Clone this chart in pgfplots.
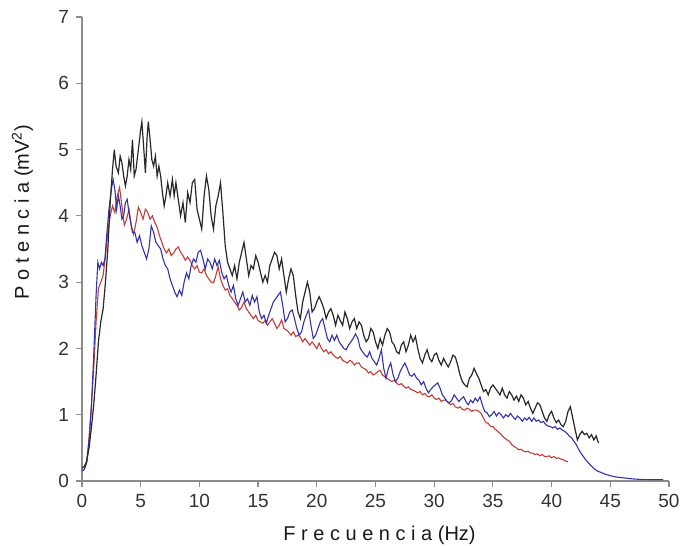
\documentclass[border=0pt]{standalone}
\usepackage{fontspec}
\setmainfont{Liberation Sans}
\usepackage{pgfplots}
\usepackage{pgfplotstable}
\pgfplotsset{compat=1.18}
\definecolor{axgray}{RGB}{140,140,140}
\definecolor{cblue}{RGB}{50,50,175}
\definecolor{cred}{RGB}{195,60,55}
\definecolor{cblack}{RGB}{40,40,40}

\pgfplotstableread{
x y
0 0.2
0.2 0.22
0.4 0.3
0.6 0.5
0.8 0.8
1.0 1.15
1.2 1.6
1.4 2.1
1.6 2.4
1.8 2.6
2.0 3.0
2.2 3.5
2.4 4.2
2.6 4.7
2.75 5.0
2.9 4.75
3.1 4.65
3.25 4.9
3.4 4.8
3.55 4.6
3.7 4.45
3.85 4.6
4.0 4.85
4.15 4.7
4.3 5.15
4.45 4.6
4.6 4.7
4.8 5.0
5.0 5.3
5.1 5.42
5.25 5.05
5.4 4.65
5.55 5.2
5.65 5.42
5.8 5.15
5.95 4.85
6.1 4.75
6.25 4.9
6.4 4.6
6.55 4.75
6.7 4.6
6.85 4.35
7.0 4.15
7.15 4.3
7.3 4.5
7.5 4.3
7.7 4.55
7.85 4.3
8.0 4.5
8.2 4.25
8.4 4.0
8.6 4.2
8.8 3.9
9.0 4.35
9.2 4.2
9.4 4.5
9.6 4.55
9.8 4.1
10.0 3.95
10.2 3.8
10.4 4.3
10.6 4.6
10.8 4.4
11.0 4.0
11.2 3.8
11.4 4.15
11.6 4.3
11.8 4.5
12.0 4.05
12.2 3.55
12.4 3.3
12.6 3.2
12.8 3.1
13.0 3.25
13.2 3.05
13.4 3.3
13.6 3.45
13.8 3.6
14.0 3.35
14.2 3.1
14.4 3.25
14.6 3.2
14.8 3.4
15.0 3.3
15.2 3.15
15.4 3.0
15.6 3.1
15.8 3.0
16.0 3.25
16.2 3.35
16.4 3.45
16.6 3.4
16.8 3.2
17.0 3.35
17.2 3.1
17.4 2.85
17.6 3.05
17.8 3.2
18.0 3.1
18.2 2.8
18.4 2.55
18.6 2.45
18.8 2.7
19.0 2.85
19.2 3.0
19.4 2.85
19.6 2.55
19.8 2.6
20.0 2.7
20.2 2.78
20.4 2.7
20.6 2.6
20.8 2.45
21.0 2.55
21.2 2.6
21.4 2.5
21.6 2.35
21.8 2.5
22.0 2.42
22.2 2.35
22.4 2.55
22.6 2.45
22.8 2.3
23.0 2.4
23.2 2.45
23.4 2.3
23.6 2.4
23.8 2.35
24.0 2.2
24.2 2.1
24.4 2.15
24.6 2.3
24.8 2.25
25.0 2.1
25.2 2.0
25.4 2.15
25.6 2.05
25.8 2.2
26.0 2.3
26.2 2.25
26.4 2.1
26.6 2.05
26.8 1.95
27.0 1.92
27.2 2.05
27.4 2.1
27.6 1.95
27.8 2.05
28.0 2.2
28.2 2.1
28.4 2.18
28.6 2.0
28.8 1.85
29.0 1.78
29.2 1.9
29.4 1.98
29.6 1.85
29.8 1.8
30.0 1.9
30.2 1.93
30.4 1.82
30.6 1.75
30.8 1.85
31.0 1.78
31.2 1.72
31.4 1.8
31.6 1.9
31.8 1.87
32.0 1.75
32.2 1.6
32.4 1.5
32.6 1.45
32.8 1.42
33.0 1.55
33.2 1.6
33.4 1.7
33.6 1.62
33.8 1.55
34.0 1.45
34.2 1.35
34.4 1.38
34.6 1.3
34.8 1.4
35.0 1.45
35.2 1.4
35.4 1.35
35.6 1.3
35.8 1.4
36.0 1.3
36.2 1.25
36.4 1.35
36.6 1.3
36.8 1.22
37.0 1.28
37.2 1.2
37.4 1.3
37.6 1.25
37.8 1.15
38.0 1.2
38.2 1.1
38.4 1.02
38.6 1.1
38.8 1.18
39.0 1.15
39.2 1.05
39.4 0.95
39.6 0.9
39.8 1.0
40.0 1.05
40.2 0.95
40.4 0.88
40.6 0.92
40.8 0.85
41.0 0.82
41.2 0.9
41.4 1.05
41.6 1.12
41.8 0.95
42.0 0.78
42.2 0.62
42.4 0.7
42.6 0.75
42.8 0.7
43.0 0.72
43.2 0.65
43.4 0.7
43.6 0.62
43.8 0.68
44.0 0.57
}\blackdata

\pgfplotstableread{
x y
0 0.15
0.2 0.18
0.4 0.28
0.6 0.6
0.8 1.1
1.0 1.9
1.2 2.8
1.35 3.3
1.5 3.2
1.65 3.3
1.8 3.25
1.95 3.35
2.1 3.7
2.3 4.1
2.5 4.4
2.65 4.55
2.8 4.4
2.95 4.1
3.1 4.3
3.25 4.15
3.4 3.95
3.55 4.0
3.7 4.2
3.85 4.25
4.0 4.05
4.15 3.9
4.3 3.75
4.5 3.75
4.7 3.6
4.9 3.7
5.1 3.55
5.3 3.45
5.5 3.35
5.7 3.5
5.9 3.85
6.1 3.75
6.3 3.6
6.5 3.55
6.7 3.5
6.9 3.35
7.1 3.25
7.3 3.2
7.5 3.05
7.7 2.95
7.9 2.85
8.1 2.78
8.3 2.88
8.5 2.8
8.7 3.0
8.9 3.14
9.1 3.05
9.3 3.25
9.5 3.35
9.7 3.3
9.9 3.45
10.1 3.48
10.3 3.35
10.5 3.2
10.7 3.35
10.9 3.3
11.1 3.2
11.3 3.35
11.5 3.25
11.7 3.33
11.9 3.15
12.1 3.05
12.3 3.1
12.5 2.95
12.7 2.85
12.9 2.95
13.1 2.75
13.3 2.65
13.5 2.75
13.7 2.85
13.9 2.7
14.1 2.75
14.3 2.65
14.5 2.8
14.7 2.7
14.9 2.78
15.1 2.55
15.3 2.45
15.5 2.5
15.7 2.38
15.9 2.5
16.1 2.6
16.3 2.7
16.5 2.75
16.7 2.8
16.9 2.85
17.1 2.65
17.3 2.4
17.5 2.45
17.7 2.55
17.9 2.58
18.1 2.45
18.3 2.3
18.5 2.2
18.7 2.25
18.9 2.4
19.1 2.5
19.3 2.58
19.5 2.35
19.7 2.15
19.9 2.2
20.1 2.3
20.3 2.4
20.5 2.45
20.7 2.3
20.9 2.15
21.1 2.1
21.3 2.2
21.5 2.12
21.7 2.2
21.9 2.1
22.1 2.05
22.3 2.0
22.5 1.98
22.7 2.05
22.9 2.1
23.1 2.15
23.3 2.22
23.5 2.15
23.7 2.0
23.9 1.95
24.1 1.9
24.3 1.87
24.5 1.95
24.7 1.85
24.9 1.8
25.1 1.75
25.3 1.85
25.5 1.98
25.7 1.7
25.9 1.55
26.1 1.7
26.3 1.78
26.5 1.6
26.7 1.5
26.9 1.55
27.1 1.65
27.3 1.72
27.5 1.78
27.7 1.7
27.9 1.6
28.1 1.58
28.3 1.62
28.5 1.55
28.7 1.52
28.9 1.45
29.1 1.5
29.3 1.4
29.5 1.33
29.7 1.38
29.9 1.42
30.1 1.45
30.3 1.48
30.5 1.4
30.7 1.3
30.9 1.25
31.1 1.2
31.3 1.18
31.5 1.22
31.7 1.3
31.9 1.25
32.1 1.2
32.3 1.24
32.5 1.27
32.7 1.2
32.9 1.15
33.1 1.22
33.3 1.18
33.5 1.25
33.7 1.2
33.9 1.27
34.1 1.15
34.3 1.05
34.5 1.03
34.7 0.97
34.9 1.0
35.1 1.05
35.3 0.98
35.5 1.03
35.7 1.0
35.9 0.95
36.1 1.0
36.3 0.97
36.5 1.02
36.7 0.97
36.9 0.93
37.1 0.98
37.3 0.95
37.5 0.9
37.7 0.95
37.9 0.92
38.1 0.96
38.3 0.9
38.5 0.95
38.7 0.9
38.9 0.92
39.1 0.88
39.3 0.9
39.5 0.85
39.7 0.83
39.9 0.82
40.1 0.8
40.3 0.82
40.5 0.78
40.7 0.8
40.9 0.77
41.1 0.75
41.3 0.72
41.5 0.68
41.7 0.65
41.9 0.6
42.1 0.55
42.3 0.48
42.5 0.42
42.7 0.37
42.9 0.32
43.1 0.28
43.3 0.24
43.6 0.19
43.9 0.15
44.2 0.13
44.6 0.1
45.0 0.08
45.5 0.06
46 0.05
47 0.03
48 0.02
49.5 0.02
}\bluedata

\pgfplotstableread{
x y
0 0.15
0.2 0.18
0.4 0.28
0.6 0.65
0.8 1.15
1.0 1.7
1.2 2.4
1.4 2.9
1.6 3.0
1.8 3.1
2.0 3.4
2.2 3.75
2.4 4.0
2.6 4.15
2.8 4.05
3.0 4.3
3.2 4.43
3.4 4.15
3.6 3.86
3.8 3.95
4.0 4.1
4.2 3.85
4.4 3.72
4.6 3.9
4.8 4.13
5.0 4.05
5.2 3.95
5.4 4.1
5.6 4.05
5.8 3.95
6.0 4.0
6.2 3.9
6.4 3.83
6.6 3.7
6.8 3.6
7.0 3.5
7.2 3.44
7.4 3.5
7.6 3.4
7.8 3.44
8.0 3.5
8.2 3.53
8.4 3.45
8.6 3.4
8.8 3.33
9.0 3.38
9.2 3.33
9.4 3.25
9.6 3.2
9.8 3.25
10.0 3.15
10.2 3.14
10.4 3.2
10.6 3.1
10.8 3.05
11.0 3.0
11.2 2.99
11.4 3.1
11.6 3.23
11.8 3.05
12.0 2.95
12.2 2.88
12.4 2.9
12.6 2.8
12.8 2.75
13.0 2.7
13.2 2.65
13.4 2.58
13.6 2.62
13.8 2.7
14.0 2.6
14.2 2.55
14.4 2.5
14.6 2.45
14.8 2.5
15.0 2.42
15.2 2.4
15.4 2.38
15.6 2.42
15.8 2.35
16.0 2.4
16.2 2.45
16.4 2.38
16.6 2.3
16.8 2.35
17.0 2.43
17.2 2.3
17.4 2.28
17.6 2.25
17.8 2.2
18.0 2.25
18.2 2.18
18.4 2.2
18.6 2.17
18.8 2.1
19.0 2.15
19.2 2.1
19.4 2.05
19.6 2.1
19.8 2.05
20.0 2.0
20.2 2.08
20.4 2.0
20.6 1.95
20.8 1.98
21.0 1.92
21.2 1.95
21.4 1.9
21.6 1.87
21.8 1.85
22.0 1.88
22.2 1.82
22.4 1.8
22.6 1.78
22.8 1.82
23.0 1.8
23.2 1.75
23.4 1.78
23.6 1.78
23.8 1.72
24.0 1.7
24.2 1.68
24.4 1.63
24.6 1.65
24.8 1.6
25.0 1.62
25.2 1.65
25.4 1.67
25.6 1.6
25.8 1.57
26.0 1.55
26.2 1.52
26.4 1.5
26.6 1.52
26.8 1.48
27.0 1.45
27.2 1.47
27.4 1.43
27.6 1.4
27.8 1.42
28.0 1.38
28.2 1.37
28.4 1.35
28.6 1.33
28.8 1.35
29.0 1.3
29.2 1.32
29.4 1.28
29.6 1.27
29.8 1.3
30.0 1.25
30.2 1.23
30.4 1.25
30.6 1.2
30.8 1.22
31.0 1.22
31.2 1.18
31.4 1.15
31.6 1.17
31.8 1.12
32.0 1.1
32.2 1.12
32.4 1.08
32.6 1.07
32.8 1.1
33.0 1.08
33.2 1.05
33.4 1.07
33.6 1.07
33.8 1.05
34.0 1.02
34.2 0.95
34.4 0.88
34.6 0.87
34.8 0.82
35.0 0.82
35.2 0.78
35.4 0.75
35.6 0.72
35.8 0.68
36.0 0.65
36.2 0.62
36.4 0.6
36.6 0.55
36.8 0.52
37.0 0.5
37.2 0.47
37.4 0.48
37.6 0.45
37.8 0.44
38.0 0.45
38.2 0.42
38.4 0.42
38.6 0.4
38.8 0.41
39.0 0.38
39.2 0.4
39.4 0.37
39.6 0.37
39.8 0.38
40.0 0.35
40.2 0.37
40.4 0.34
40.6 0.35
40.8 0.33
41.0 0.32
41.2 0.3
41.4 0.29
}\reddata

\begin{document}
\begin{tikzpicture}
\useasboundingbox (-41pt,-32.5pt) rectangle (304.5pt,240.5pt);
\begin{axis}[
  at={(0,0)}, anchor=south west,
  scale only axis, width=293.5pt, height=232pt,
  xmin=0, xmax=50, ymin=0, ymax=7,
  axis x line*=bottom, axis y line*=left,
  axis line style={axgray, line width=0.6pt, -},
  xtick={0,5,...,50}, ytick={0,1,...,7},
  tick align=outside, major tick length=3pt,
  tick style={axgray, line width=0.6pt},
  /pgf/number format/assume math mode=true,
  ticklabel style={font=\fontsize{9.5}{11}\selectfont, text=black!80},
  xlabel={F r e c u e n c i a (Hz)},
  ylabel={P o t e n c i a (mV\textsuperscript{2})},
  label style={font=\fontsize{10}{12}\selectfont, text=black!90},
  xlabel style={at={(axis description cs:0.5,0)}, anchor=north, yshift=-19pt, xshift=2pt},
  ylabel style={at={(axis description cs:0,0.58)}, anchor=south, yshift=21pt},
  clip=false,
]
\addplot[cred, line width=0.55pt] table[x=x,y=y] {\reddata};
\addplot[cblue, line width=0.55pt] table[x=x,y=y] {\bluedata};
\addplot[cblack, line width=0.6pt] table[x=x,y=y] {\blackdata};
\end{axis}
\end{tikzpicture}
\end{document}
